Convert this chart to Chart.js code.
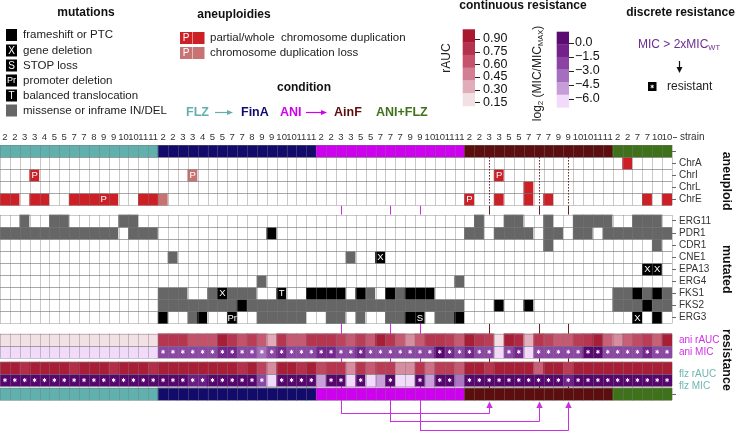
<!DOCTYPE html>
<html><head><meta charset="utf-8">
<script src="https://cdn.jsdelivr.net/npm/chart.js@4.4.0/dist/chart.umd.min.js"></script>
<style>html,body{margin:0;padding:0;background:#fff;}#wrap{width:740px;height:441px;}</style>
</head><body><div id="wrap"><canvas id="c" width="740" height="441"></canvas></div>
<script>
const _ = '';
// ---------- DATA ----------
const strains = [
 '2','2','3','3','4','5','5','7','7','8','9','9','10','10','11','11',
 '2','2','3','3','4','5','5','7','7','8','9','9','10','10','11','11',
 '2','2','3','3','5','5','7','7','7','9','9','10','10','11','11',
 '2','2','3','3','5','5','7','7','7','9','9','10','10','11','11',
 '2','2','7','7','10','10'];
const conditions = [
 'FLZ','FLZ','FLZ','FLZ','FLZ','FLZ','FLZ','FLZ','FLZ','FLZ','FLZ','FLZ','FLZ','FLZ','FLZ','FLZ',
 'FinA','FinA','FinA','FinA','FinA','FinA','FinA','FinA','FinA','FinA','FinA','FinA','FinA','FinA','FinA','FinA',
 'ANI','ANI','ANI','ANI','ANI','ANI','ANI','ANI','ANI','ANI','ANI','ANI','ANI','ANI','ANI',
 'AinF','AinF','AinF','AinF','AinF','AinF','AinF','AinF','AinF','AinF','AinF','AinF','AinF','AinF','AinF',
 'ANI+FLZ','ANI+FLZ','ANI+FLZ','ANI+FLZ','ANI+FLZ','ANI+FLZ'];
// aneuploidies: d = duplication, l = duplication loss, P suffix = partial
const ChrA = [
 _,_,_,_,_,_,_,_,_,_,_,_,_,_,_,_,
 _,_,_,_,_,_,_,_,_,_,_,_,_,_,_,_,
 _,_,_,_,_,_,_,_,_,_,_,_,_,_,_,
 _,_,_,_,_,_,_,_,_,_,_,_,_,_,_,
 _,'d',_,_,_,_];
const ChrI = [
 _,_,_,'dP',_,_,_,_,_,_,_,_,_,_,_,_,
 _,_,_,'lP',_,_,_,_,_,_,_,_,_,_,_,_,
 _,_,_,_,_,_,_,_,_,_,_,_,_,_,_,
 _,_,_,'dP',_,_,_,_,_,_,_,_,_,_,_,
 _,_,_,_,_,_];
const ChrL = [
 _,_,_,_,_,_,_,_,_,_,_,_,_,_,_,_,
 _,_,_,_,_,_,_,_,_,_,_,_,_,_,_,_,
 _,_,_,_,_,_,_,_,_,_,_,_,_,_,_,
 _,_,_,_,_,_,'d',_,_,_,_,_,_,_,_,
 _,_,_,_,_,_];
const ChrE = [
 'd','d',_,'d','d',_,_,'d','d','d','dP','d',_,_,'d','d',
 'l',_,_,_,_,_,_,_,_,_,_,_,_,_,_,_,
 _,_,_,_,_,_,_,_,_,_,_,_,_,_,_,
 'dP',_,_,'d',_,_,'d',_,'d',_,_,_,_,_,_,
 _,_,_,'d',_,'d'];
// mutations: m = missense/inframe, f = frameshift/PTC, X, S, Pr, T
const ERG11 = [
 _,_,'m',_,_,'m','m',_,_,_,_,_,'m','m',_,_,
 _,_,_,_,_,_,_,_,_,_,_,_,_,_,_,_,
 _,_,_,_,_,_,_,_,_,_,_,_,_,_,_,
 _,'m',_,_,'m','m',_,_,'m',_,_,'m','m','m','m',
 _,_,'m','m','m',_];
const PDR1 = [
 'm','m','m','m','m','m','m','m','m','m','m','m',_,'m','m','m',
 _,_,_,_,_,_,_,_,_,_,_,'f',_,_,_,_,
 _,_,_,_,_,_,_,_,_,_,_,_,_,_,_,
 'm','m',_,'m','m','m','m',_,'m','m',_,'m','m',_,'m',
 'm','m','m','m','m','m'];
const CDR1 = [
 _,_,_,_,_,_,_,_,_,_,_,_,_,_,_,_,
 _,_,_,_,_,_,_,_,_,_,_,_,_,_,_,_,
 _,_,_,_,_,_,_,_,_,_,_,_,_,_,_,
 _,_,_,_,_,_,_,_,'m',_,_,_,_,_,_,
 _,_,_,_,'m',_];
const CNE1 = [
 _,_,_,_,_,_,_,_,_,_,_,_,_,_,_,_,
 _,'m',_,_,_,_,_,_,_,_,_,_,_,_,_,_,
 _,_,_,'m',_,_,'X',_,_,_,_,_,_,_,_,
 _,_,_,_,_,_,_,_,_,_,_,_,_,_,_,
 _,_,_,_,_,_];
const EPA13 = [
 _,_,_,_,_,_,_,_,_,_,_,_,_,_,_,_,
 _,_,_,_,_,_,_,_,_,_,_,_,_,_,_,_,
 _,_,_,_,_,_,_,_,_,_,_,_,_,_,_,
 _,_,_,_,_,_,_,_,_,_,_,_,_,_,_,
 _,_,_,'X','X',_];
const ERG4 = [
 _,_,_,_,_,_,_,_,_,_,_,_,_,_,_,_,
 _,_,_,_,_,_,_,_,_,_,'m',_,_,_,_,_,
 _,_,_,_,_,_,_,_,_,_,_,_,_,_,'m',
 _,_,_,_,_,_,_,_,_,_,_,_,_,_,_,
 _,_,_,_,_,_];
const FKS1 = [
 _,_,_,_,_,_,_,_,_,_,_,_,_,_,_,_,
 'm','m','m',_,_,'m','X','m','m','m',_,_,'T',_,_,'f',
 'f','f','f',_,'f','m',_,'f','m','f','f','f',_,_,_,
 _,_,_,_,_,_,_,_,_,_,_,_,_,_,_,
 'm','m','f','m','f','m'];
const FKS2 = [
 _,_,_,_,_,_,_,_,_,_,_,_,_,_,_,_,
 'm','m','m','m','m','m','m','m','f','m','m','m','m','m','m','m',
 'm','m','m','m','m','m','m','m','m','m','m','m','m','m','m',
 _,_,_,'f',_,_,'f',_,_,_,_,_,_,_,_,
 'm','m','m','f','m','m'];
const ERG3 = [
 _,_,_,_,_,_,_,_,_,_,_,_,_,_,_,_,
 'f',_,_,'m','f',_,_,'Pr',_,_,'m','m','m','m','m',_,
 _,'m','m',_,'m',_,_,'m','m','f','S',_,'m','m','f',
 _,_,_,_,_,_,_,_,_,_,_,_,_,_,_,
 _,_,'X',_,'f',_];
// continuous resistance
const aniAUC = [
 0.15,0.15,0.15,0.15,0.15,0.15,0.15,0.15,0.15,0.15,0.15,0.15,0.15,0.15,0.15,0.15,
 0.78,0.78,0.78,0.65,0.65,0.65,0.92,0.78,0.65,0.75,0.62,0.35,0.78,0.62,0.62,0.78,
 0.78,0.78,0.72,0.62,0.75,0.62,0.92,0.78,0.62,0.45,0.62,0.78,0.78,0.75,0.62,
 0.92,0.78,0.75,0.17,0.92,0.85,0.33,0.78,0.72,0.62,0.62,0.75,0.78,0.92,0.60,
 0.45,0.60,0.68,0.75,0.60,0.92];
const aniMIC = [
 -6.5,-6.5,-6.5,-6.5,-6.5,-6.5,-6.5,-6.5,-6.5,-6.5,-6.5,-6.5,-6.5,-6.5,-6.5,-6.5,
 -2.3,-2.3,-2.3,-2.3,-2.3,-2.3,-1.0,-1.0,-2.3,-2.3,-3.6,-2.3,-1.0,-2.3,-2.3,-2.3,
 -1.0,-1.0,-2.3,-2.3,-1.0,-2.3,-2.3,-2.3,-2.3,-2.3,-2.3,-2.3,0.3,-1.0,-2.3,
 -1.0,-2.3,-2.3,-6.5,-2.3,-1.0,-6.5,-2.3,-2.3,-2.3,-2.3,-2.3,0.3,0.3,-2.3,
 -2.3,-2.3,-2.3,-1.0,-2.3,-2.3];
const flzAUC = [
 0.92,0.92,0.82,0.92,0.92,0.92,0.92,0.82,0.92,0.92,0.92,0.82,0.92,0.92,0.92,0.82,
 0.92,0.92,0.92,0.92,0.92,0.92,0.92,0.92,0.80,0.92,0.72,0.45,0.92,0.92,0.80,0.92,
 0.70,0.78,0.78,0.45,0.78,0.62,0.75,0.75,0.45,0.45,0.78,0.55,0.75,0.75,0.62,
 0.92,0.92,0.78,0.92,0.92,0.92,0.92,0.60,0.92,0.92,0.75,0.92,0.92,0.92,0.92,
 0.92,0.92,0.92,0.92,0.92,0.92];
const flzMIC = [
 0.4,0.4,0.4,0.4,0.4,0.4,0.4,0.4,0.4,0.4,0.4,0.4,0.4,0.4,0.4,0.4,
 0.4,0.4,0.4,-0.6,-0.6,0.4,0.4,0.4,0.4,0.4,-2.3,-6.5,0.4,0.4,0.4,0.4,
 -5.0,0.4,0.4,-6.5,0.4,-6.5,-5.0,0.4,-6.5,-6.5,0.4,-5.0,0.4,0.4,-3.8,
 0.4,0.4,0.4,0.4,0.4,0.4,0.4,0.4,0.4,0.4,-0.8,0.4,0.4,0.4,0.4,
 0.4,0.4,0.4,0.4,0.4,0.4];
// discrete resistance (MIC > 2xMIC_WT)
const aniRes = [
 0,0,0,0,0,0,0,0,0,0,0,0,0,0,0,0,
 1,1,1,1,1,1,1,1,1,1,1,1,1,1,1,1,
 1,1,1,1,1,1,1,1,1,1,1,1,1,1,1,
 1,1,1,0,1,1,0,1,1,1,1,1,1,1,1,
 1,1,1,1,1,1];
const flzRes = [
 1,1,1,1,1,1,1,1,1,1,1,1,1,1,1,1,
 1,1,1,1,1,1,1,1,1,1,1,0,1,1,1,1,
 0,1,1,0,1,0,0,1,0,0,1,0,1,1,0,
 1,1,1,1,1,1,1,1,1,1,1,1,1,1,1,
 1,1,1,1,1,1];
// evolution links ANI -> AinF (column indices)
const linkFrom = [34, 39, 42];
const linkTo = [49, 54, 57];
// colour-bar ticks
const aucTicks = ['0.90','0.75','0.60','0.45','0.30','0.15'];
const micTicks = ['0.0','\u22121.5','\u22123.0','\u22124.5','\u22126.0'];

// ---------- STYLE ----------
const SANS = '"Liberation Sans", Arial, Helvetica, sans-serif';
const condColor = {'FLZ':'#60b0ad','FinA':'#130b6b','ANI':'#cf00f0','AinF':'#5c0d0e','ANI+FLZ':'#3e7119'};
const aneuColor = {d:'#cc1f26', dP:'#cc1f26', l:'#c87373', lP:'#c87373'};
const mutColor = {m:'#666666', f:'#000000', X:'#000000', S:'#000000', Pr:'#000000', T:'#000000'};
const aucStops = [[0.195,'#f2e0e5'],[0.345,'#e2adbb'],[0.495,'#d27f94'],[0.645,'#c4536b'],[0.795,'#b5324c'],[0.945,'#a61a33']];
const micStops = [[-6.3,'#f1dafa'],[-4.95,'#c69dd8'],[-3.6,'#a66ebe'],[-2.2,'#8a44a4'],[-0.85,'#71218b'],[0.52,'#56036c']];
const aucBar = ['#a8182f','#b5324c','#c4536b','#d27f94','#e2adbb','#f2e0e5'];
const micBar = ['#5c0b70','#73218b','#8b44a4','#a66ebe','#c69dd8','#f1dafa'];
function hex2rgb(h){return [parseInt(h.substr(1,2),16),parseInt(h.substr(3,2),16),parseInt(h.substr(5,2),16)];}
function cmap(stops, v){
  if (v <= stops[0][0]) return stops[0][1];
  if (v >= stops[stops.length-1][0]) return stops[stops.length-1][1];
  for (let i=0;i<stops.length-1;i++){
    const [a,ca]=stops[i],[b,cb]=stops[i+1];
    if (v>=a && v<=b){const t=(v-a)/(b-a);const A=hex2rgb(ca),B=hex2rgb(cb);
      return 'rgb('+A.map((x,k)=>Math.round(x+(B[k]-x)*t)).join(',')+')';}
  }
}
// row layout (y units)
const rows = [
 {name:'condTop', y0:0, y1:1, kind:'cond', data:conditions},
 {name:'ChrA', y0:1, y1:2, kind:'aneu', data:ChrA},
 {name:'ChrI', y0:2, y1:3, kind:'aneu', data:ChrI},
 {name:'ChrL', y0:3, y1:4, kind:'aneu', data:ChrL},
 {name:'ChrE', y0:4, y1:5, kind:'aneu', data:ChrE},
 {name:'ERG11', y0:5.8, y1:6.8, kind:'mut', data:ERG11},
 {name:'PDR1', y0:6.8, y1:7.8, kind:'mut', data:PDR1},
 {name:'CDR1', y0:7.8, y1:8.8, kind:'mut', data:CDR1},
 {name:'CNE1', y0:8.8, y1:9.8, kind:'mut', data:CNE1},
 {name:'EPA13', y0:9.8, y1:10.8, kind:'mut', data:EPA13},
 {name:'ERG4', y0:10.8, y1:11.8, kind:'mut', data:ERG4},
 {name:'FKS1', y0:11.8, y1:12.8, kind:'mut', data:FKS1},
 {name:'FKS2', y0:12.8, y1:13.8, kind:'mut', data:FKS2},
 {name:'ERG3', y0:13.8, y1:14.8, kind:'mut', data:ERG3},
 {name:'ani rAUC', y0:15.65, y1:16.65, kind:'auc', data:aniAUC},
 {name:'ani MIC', y0:16.65, y1:17.65, kind:'mic', data:aniMIC, res:aniRes},
 {name:'flz rAUC', y0:18.0, y1:19.0, kind:'auc', data:flzAUC},
 {name:'flz MIC', y0:19.0, y1:20.0, kind:'mic', data:flzMIC, res:flzRes},
 {name:'condBot', y0:20.15, y1:21.15, kind:'cond', data:conditions}
];
const blocks = [[0,1],[1,5],[5.8,14.8],[15.65,17.65],[18,20],[20.15,21.15]];
const linkLevels = [22.27, 23.0, 23.72];
const yTicks = [
 {v:0.5, t:'', mark:true, c:'#333'},
 {v:1.5, t:'ChrA', mark:true, c:'#333'},{v:2.5, t:'ChrI', mark:true, c:'#333'},
 {v:3.5, t:'ChrL', mark:true, c:'#333'},{v:4.5, t:'ChrE', mark:true, c:'#333'},
 {v:6.3, t:'ERG11', mark:true, c:'#333'},{v:7.3, t:'PDR1', mark:true, c:'#333'},
 {v:8.3, t:'CDR1', mark:true, c:'#333'},{v:9.3, t:'CNE1', mark:true, c:'#333'},
 {v:10.3, t:'EPA13', mark:true, c:'#333'},{v:11.3, t:'ERG4', mark:true, c:'#333'},
 {v:12.3, t:'FKS1', mark:true, c:'#333'},{v:13.3, t:'FKS2', mark:true, c:'#333'},
 {v:14.3, t:'ERG3', mark:true, c:'#333'},
 {v:16.15, t:'ani rAUC', mark:false, c:'#d02ee6'},{v:17.15, t:'ani MIC', mark:false, c:'#d02ee6'},
 {v:19.0, t:'flz rAUC', mark:false, c:'#6db6b2'},{v:20.0, t:'flz MIC', mark:false, c:'#6db6b2'},
 {v:20.65, t:'', mark:true, c:'#333'}
];

function cellColor(row, v){
  if (row.kind==='cond') return condColor[v];
  if (row.kind==='aneu') return v ? aneuColor[v] : '#ffffff';
  if (row.kind==='mut') return v ? mutColor[v] : '#ffffff';
  if (row.kind==='auc') return cmap(aucStops, v);
  return cmap(micStops, v);
}
const datasets = rows.map(r => ({
  label: r.name,
  data: r.data.map(() => [r.y0, r.y1]),
  backgroundColor: r.data.map(v => cellColor(r, v)),
  borderWidth: 0, borderSkipped: false,
  barPercentage: 1, categoryPercentage: 1, grouped: false
}));

function star(ctx, x, y, r){
  ctx.save(); ctx.strokeStyle='#ffffff'; ctx.lineWidth=1;
  for (let k=0;k<3;k++){const a=Math.PI/2+k*Math.PI/3;
    ctx.beginPath(); ctx.moveTo(x-r*Math.cos(a), y-r*Math.sin(a)); ctx.lineTo(x+r*Math.cos(a), y+r*Math.sin(a)); ctx.stroke();}
  ctx.restore();
}
function box(ctx, x, y, w, h, color, letter, fs){
  ctx.fillStyle=color; ctx.fillRect(x,y,w,h);
  if (letter){ctx.fillStyle='#fff'; ctx.font=fs+'px '+SANS; ctx.textAlign='center'; ctx.textBaseline='middle'; ctx.fillText(letter, x+w/2, y+h/2+0.5);}
}
function text(ctx, s, x, y, font, color, align){
  ctx.font=font; ctx.fillStyle=color; ctx.textAlign=align||'left'; ctx.textBaseline='middle'; ctx.fillText(s,x,y);
}
function rtext(ctx, s, x, y, font, color, ang){
  ctx.save(); ctx.translate(x,y); ctx.rotate(ang); text(ctx,s,0,0,font,color,'center'); ctx.restore();
}

const heatPlugin = {
  id:'heat',
  beforeDatasetsDraw(chart){
    const ctx=chart.ctx, xs=chart.scales.x, ys=chart.scales.y;
    ctx.save(); ctx.lineWidth=1;
    linkFrom.forEach((s,k)=>{
      const xa=Math.round(xs.getPixelForValue(s))+0.5, xb=Math.round(xs.getPixelForValue(linkTo[k]))+0.5;
      ctx.strokeStyle='#cc2ee4';
      ctx.beginPath(); ctx.moveTo(xa, ys.getPixelForValue(5)); ctx.lineTo(xa, ys.getPixelForValue(linkLevels[k])); ctx.stroke();
      ctx.strokeStyle='#6e1f1f';
      ctx.beginPath(); ctx.moveTo(xb, ys.getPixelForValue(5)); ctx.lineTo(xb, ys.getPixelForValue(21.15)); ctx.stroke();
    });
    ctx.restore();
  },
  afterDatasetsDraw(chart){
    const ctx=chart.ctx, xs=chart.scales.x, ys=chart.scales.y;
    const n=strains.length, w=xs.getPixelForValue(1)-xs.getPixelForValue(0);
    const left=i=>xs.getPixelForValue(i)-w/2;
    ctx.save();
    // strain labels (x scale positions)
    strains.forEach((s,i)=>text(ctx,s,xs.getPixelForValue(i),137,'9.5px '+SANS,'#333','center'));
    // grid lines
    ctx.strokeStyle='rgba(120,120,120,0.4)'; ctx.lineWidth=1;
    blocks.forEach(([a,b])=>{
      const ya=ys.getPixelForValue(a), yb=ys.getPixelForValue(b);
      ctx.beginPath();
      for(let i=0;i<=n;i++){const x=Math.round(left(i))+0.5; ctx.moveTo(x,ya); ctx.lineTo(x,yb);}
      rows.forEach(r=>{ if(r.y0>=a && r.y1<=b){ [r.y0,r.y1].forEach(v=>{const y=Math.round(ys.getPixelForValue(v))+0.5; ctx.moveTo(left(0),y); ctx.lineTo(left(n),y);}); }});
      ctx.stroke();
    });
    // letters and stars
    rows.forEach(r=>{
      const yc=(ys.getPixelForValue(r.y0)+ys.getPixelForValue(r.y1))/2;
      r.data.forEach((v,i)=>{
        const xc=xs.getPixelForValue(i);
        if(r.kind==='aneu' && (v==='dP'||v==='lP')) text(ctx,'P',xc,yc+0.5,'9.5px '+SANS,'#fff','center');
        if(r.kind==='mut' && v && v!=='m' && v!=='f') text(ctx,v,xc,yc+0.5,'9.5px '+SANS,'#fff','center');
        if(r.kind==='mic' && r.res[i]) star(ctx,xc,yc,2);
      });
    });
    // dotted links through aneuploid rows
    ctx.strokeStyle='#6e1f1f'; ctx.setLineDash([1.5,1.5]);
    linkTo.forEach(t=>{const x=Math.round(xs.getPixelForValue(t))+0.5; ctx.beginPath(); ctx.moveTo(x,ys.getPixelForValue(1)); ctx.lineTo(x,ys.getPixelForValue(5)); ctx.stroke();});
    ctx.setLineDash([]);
    // arrows below
    ctx.strokeStyle='#cc2ee4'; ctx.fillStyle='#cc2ee4';
    linkFrom.forEach((s,k)=>{
      const xa=Math.round(xs.getPixelForValue(s))+0.5, xb=Math.round(xs.getPixelForValue(linkTo[k]))+0.5;
      const yl=Math.round(ys.getPixelForValue(linkLevels[k]))-0.5, tip=ys.getPixelForValue(21.15)+1.5;
      ctx.beginPath(); ctx.moveTo(xa,yl); ctx.lineTo(xb,yl); ctx.lineTo(xb,tip+5); ctx.stroke();
      ctx.beginPath(); ctx.moveTo(xb,tip); ctx.lineTo(xb-3.2,tip+6.5); ctx.lineTo(xb+3.2,tip+6.5); ctx.closePath(); ctx.fill();
    });
    // strain label at right
    const xr=chart.chartArea.right;
    ctx.strokeStyle='#555'; ctx.beginPath(); ctx.moveTo(xr+1,137.5); ctx.lineTo(xr+5,137.5); ctx.stroke();
    text(ctx,'strain',xr+8,137,'10px '+SANS,'#333');
    // group labels
    const gx=726;
    rtext(ctx,'aneuploid',gx,(ys.getPixelForValue(1)+ys.getPixelForValue(5))/2,'bold 12.5px '+SANS,'#111',Math.PI/2);
    rtext(ctx,'mutated',gx,(ys.getPixelForValue(5.8)+ys.getPixelForValue(14.8))/2,'bold 12.5px '+SANS,'#111',Math.PI/2);
    rtext(ctx,'resistance',gx,(ys.getPixelForValue(15.65)+ys.getPixelForValue(20))/2,'bold 12.5px '+SANS,'#111',Math.PI/2);
    ctx.restore();
  },
  afterDraw(chart){
    const ctx=chart.ctx; ctx.save();
    // mutations legend
    text(ctx,'mutations',86,13,'bold 12px '+SANS,'#111','center');
    const mItems=[['f','frameshift or PTC'],['X','gene deletion'],['S','STOP loss'],['Pr','promoter deletion'],['T','balanced translocation'],['m','missense or inframe IN/DEL']];
    const my=[35,50.5,65.5,80.5,95.5,110.5];
    mItems.forEach(([c,s],k)=>{
      box(ctx,6,my[k]-6,11,12,mutColor[c],(c==='m'||c==='f')?'':c,c==='Pr'?9:10);
      text(ctx,s,23,my[k],'11.5px '+SANS,'#222');
    });
    // aneuploidies legend
    text(ctx,'aneuploidies',234,15,'bold 12px '+SANS,'#111','center');
    box(ctx,180,32,12,12,aneuColor.d,'P',10); box(ctx,192.5,32,12,12,aneuColor.d,'',10);
    box(ctx,180,47,12,12,aneuColor.l,'P',10); box(ctx,192.5,47,12,12,aneuColor.l,'',10);
    text(ctx,'partial/whole  chromosome duplication',210,38,'11.5px '+SANS,'#222');
    text(ctx,'chromosome duplication loss',210,53,'11.5px '+SANS,'#222');
    // condition legend
    text(ctx,'condition',304,88,'bold 12px '+SANS,'#111','center');
    const cf='bold 12.5px '+SANS;
    text(ctx,'FLZ',186,112.5,cf,condColor['FLZ']);
    text(ctx,'FinA',241,112.5,cf,condColor['FinA']);
    text(ctx,'ANI',280,112.5,cf,condColor['ANI']);
    text(ctx,'AinF',334,112.5,cf,condColor['AinF']);
    text(ctx,'ANI+FLZ',376,112.5,cf,condColor['ANI+FLZ']);
    [[215,233,condColor['FLZ']],[306,327,condColor['ANI']]].forEach(([a,b,c])=>{
      ctx.strokeStyle=c; ctx.fillStyle=c; ctx.lineWidth=1.2;
      ctx.beginPath(); ctx.moveTo(a,112.5); ctx.lineTo(b-4,112.5); ctx.stroke();
      ctx.beginPath(); ctx.moveTo(b,112.5); ctx.lineTo(b-6,110); ctx.lineTo(b-6,115); ctx.closePath(); ctx.fill();
    });
    // continuous resistance legend
    text(ctx,'continuous resistance',523,6,'bold 12px '+SANS,'#111','center');
    const segA=(106-29.3)/6;
    aucBar.forEach((c,k)=>{ctx.fillStyle=c; ctx.fillRect(462.7,29.3+k*segA,12.3,segA+0.3);});
    const aucTy=[39,51.7,64.3,77,89.7,102.4];
    ctx.strokeStyle='#222'; ctx.lineWidth=1;
    aucTicks.forEach((s,k)=>{ctx.beginPath(); ctx.moveTo(475,Math.round(aucTy[k])+0.5); ctx.lineTo(480,Math.round(aucTy[k])+0.5); ctx.stroke();
      text(ctx,s,483,aucTy[k],'12.5px '+SANS,'#111');});
    rtext(ctx,'rAUC',447,58,'12px '+SANS,'#222',-Math.PI/2);
    const segM=(107.3-31.7)/6;
    micBar.forEach((c,k)=>{ctx.fillStyle=c; ctx.fillRect(556.7,31.7+k*segM,12.3,segM+0.3);});
    const micTy=[42.7,56.5,70.5,84.5,98.5];
    micTicks.forEach((s,k)=>{ctx.beginPath(); ctx.moveTo(569,Math.round(micTy[k])+0.5); ctx.lineTo(574,Math.round(micTy[k])+0.5); ctx.stroke();
      text(ctx,s,575,micTy[k],'12.5px '+SANS,'#111');});
    ctx.save(); ctx.translate(538,73.5); ctx.rotate(-Math.PI/2);
    const parts=[['log',12,0],['2',8,3],[' (MIC/MIC',12,0],['MAX',7.5,3],[')',12,0]];
    let tw=0; parts.forEach(p=>{ctx.font=p[1]+'px '+SANS; tw+=ctx.measureText(p[0]).width;});
    let px=-tw/2; ctx.fillStyle='#222'; ctx.textBaseline='middle'; ctx.textAlign='left';
    parts.forEach(p=>{ctx.font=p[1]+'px '+SANS; ctx.fillText(p[0],px,p[2]); px+=ctx.measureText(p[0]).width;});
    ctx.restore();
    // discrete resistance legend
    text(ctx,'discrete resistance',680.5,13,'bold 12px '+SANS,'#111','center');
    ctx.font='12px '+SANS; const w1=ctx.measureText('MIC > 2xMIC').width;
    text(ctx,'MIC > 2xMIC',638,45,'12px '+SANS,'#6b2d8e');
    text(ctx,'WT',638+w1,48,'7.5px '+SANS,'#6b2d8e');
    ctx.strokeStyle='#111'; ctx.fillStyle='#111'; ctx.lineWidth=1.2;
    ctx.beginPath(); ctx.moveTo(679.5,61); ctx.lineTo(679.5,68); ctx.stroke();
    ctx.beginPath(); ctx.moveTo(679.5,73); ctx.lineTo(676.5,67); ctx.lineTo(682.5,67); ctx.closePath(); ctx.fill();
    ctx.fillStyle='#000'; ctx.fillRect(648,82,8.5,9); star(ctx,652.2,86.5,1.8);
    text(ctx,'resistant',667,86.5,'12px '+SANS,'#222');
    ctx.restore();
  }
};

const chart = new Chart(document.getElementById('c'), {
  type:'bar',
  data:{labels:strains, datasets},
  options:{
    responsive:false, animation:false, events:[],
    layout:{padding:{top:130,right:12,left:0,bottom:0}},
    plugins:{legend:{display:false}, tooltip:{enabled:false}},
    scales:{
      x:{type:'category', position:'top', offset:true,
         grid:{display:false}, border:{display:false},
         ticks:{display:false},
         afterFit:s=>{s.height=15;}},
      y:{type:'linear', position:'right', reverse:true, min:0, max:23.8,
         grid:{display:true, drawOnChartArea:false, drawTicks:true, tickLength:4, tickColor:c=>yTicks[c.index]&&yTicks[c.index].mark?'#666':'rgba(0,0,0,0)'},
         border:{display:false},
         afterBuildTicks:s=>{s.ticks=yTicks.map(t=>({value:t.v}));},
         ticks:{padding:3, autoSkip:false, callback:(v,i)=>yTicks[i]?yTicks[i].t:'',
                color:c=>yTicks[c.index]?yTicks[c.index].c:'#333', font:{family:SANS, size:10}},
         afterFit:s=>{s.width=56;}}
    }
  },
  plugins:[heatPlugin]
});
</script></body></html>
